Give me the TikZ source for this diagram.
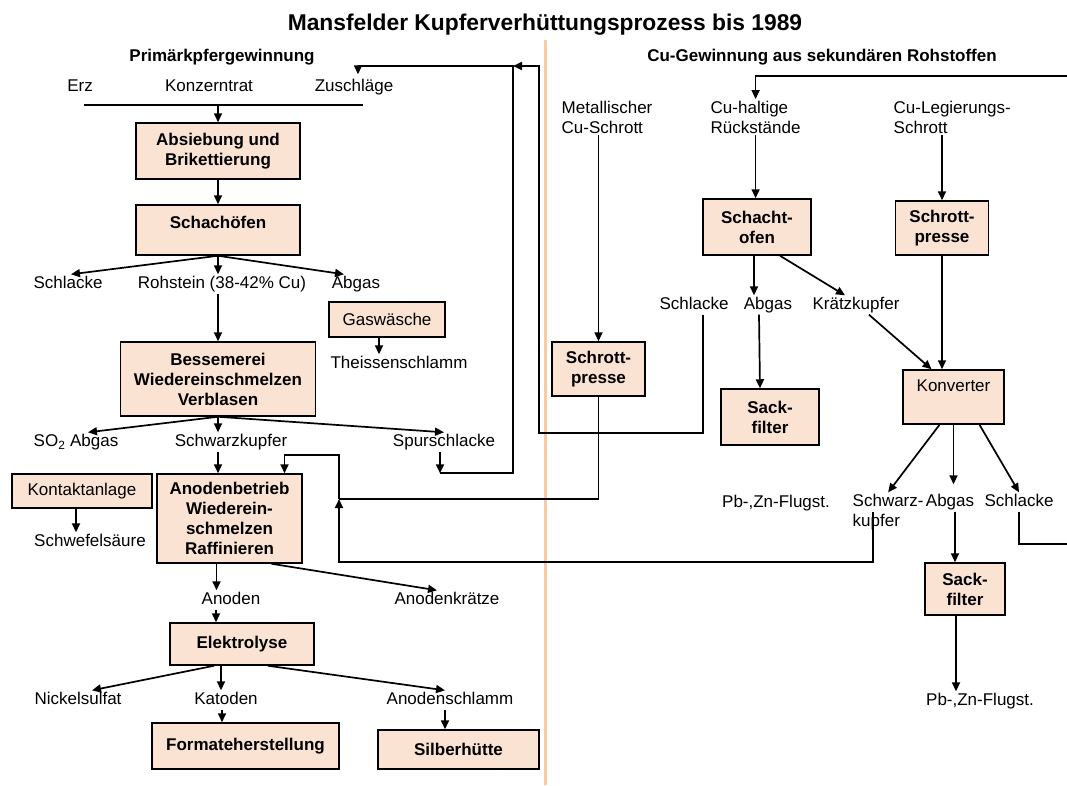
\documentclass[tikz,border=0pt]{standalone}
\usepackage{fontspec}
\setmainfont{Liberation Sans}
\usetikzlibrary{arrows.meta}
\definecolor{boxfill}{RGB}{250,227,210}
\definecolor{sepline}{RGB}{247,203,163}
\newcommand{\lblsize}{\fontsize{17}{20}\selectfont}

\begin{document}
\begin{tikzpicture}[x=1pt, y=-1pt, >={Triangle[length=9pt,width=8pt]},
    every node/.style={font=\lblsize},
    lbl/.style={inner sep=1.5pt, text height=12.5pt, text depth=3.5pt},
    lbltwo/.style={inner sep=1.5pt, align=left, anchor=west},
    stage/.style={draw, line width=1.5pt, fill=boxfill, inner sep=2pt, align=center, font=\lblsize\bfseries},
    plainstage/.style={stage, font=\lblsize},
    flow/.style={line width=1.7pt}]
  \useasboundingbox (0,0) rectangle (1067,785);
  % titles and separator
  \node[font=\fontsize{22.8}{26}\selectfont\bfseries] (title) at (545,25) {Mansfelder Kupferverhüttungsprozess bis 1989};
  \node[font=\lblsize\bfseries] (headL) at (222,57) {Primärkpfergewinnung};
  \node[font=\lblsize\bfseries] (headR) at (822,57) {Cu-Gewinnung aus sekundären Rohstoffen};
  \draw[sepline, line width=3pt] (545,40) -- (545,785);

  % primary side
  \node[lbl] (erz) at (80,87) {Erz};
  \node[lbl] (konz) at (209,87) {Konzerntrat};
  \node[lbl] (zusch) at (354,87) {Zuschläge};
  \coordinate (feedL) at (84,105);
  \coordinate (feedR) at (363,105);
  \node[stage, minimum width=164pt, minimum height=56pt] (absieb) at (218,151) {Absiebung und\\Brikettierung};
  \node[stage, minimum width=164pt, minimum height=50pt, text depth=15pt] (schacht) at (218,230) {Schachöfen};
  \node[lbl] (schl1) at (68,284) {Schlacke};
  \node[lbl] (roh) at (222,284) {Rohstein (38-42\% Cu)};
  \node[lbl] (abg1) at (356,284) {Abgas};
  \node[plainstage, minimum width=116pt, minimum height=35pt] (gas) at (387,319.5) {Gaswäsche};
  \node[lbl] (theis) at (399,364) {Theissenschlamm};
  \node[stage, minimum width=195pt, minimum height=74pt] (bess) at (218,379) {Bessemerei\\Wiedereinschmelzen\\Verblasen};
  \node[lbl] (so2) at (76,442) {SO\textsubscript{2} Abgas};
  \node[lbl] (schw) at (231,442) {Schwarzkupfer};
  \node[lbl] (spur) at (444,442) {Spurschlacke};
  \node[plainstage, minimum width=140pt, minimum height=34pt] (kont) at (82,491) {Kontaktanlage};
  \node[lbl] (schwef) at (90,542) {Schwefelsäure};
  \node[stage, minimum width=145pt, minimum height=89pt] (anod) at (229.5,518.5) {Anodenbetrieb\\Wiederein-\\schmelzen\\Raffinieren};
  \node[lbl] (anoden) at (231,600) {Anoden};
  \node[lbl] (anodk) at (447,600) {Anodenkrätze};
  \node[stage, minimum width=144pt, minimum height=42pt] (elek) at (242,644) {Elektrolyse};
  \node[lbl] (nick) at (78,700) {Nickelsulfat};
  \node[lbl] (kat) at (226,700) {Katoden};
  \node[lbl] (anschl) at (450,700) {Anodenschlamm};
  \node[stage, minimum width=187pt, minimum height=46pt] (form) at (245.5,746) {Formateherstellung};
  \node[stage, minimum width=161pt, minimum height=39pt] (silber) at (458.5,749.5) {Silberhütte};

  % secondary side
  \node[lbltwo] (metal) at (560,117) {Metallischer\\Cu-Schrott};
  \node[lbltwo] (cuh) at (709,117) {Cu-haltige\\Rückstände};
  \node[lbltwo] (leg) at (892,117) {Cu-Legierungs-\\Schrott};
  \coordinate (feedTR) at (1067,76);
  \node[stage, minimum width=108pt, minimum height=56pt] (schofen) at (757,227) {Schacht-\\ofen};
  \node[stage, minimum width=93pt, minimum height=54pt] (spresseR) at (942,228) {Schrott-\\presse};
  \node[lbl] (schlR) at (694,305) {Schlacke};
  \node[lbl] (abgR1) at (768,305) {Abgas};
  \node[lbl] (kratz) at (856,305) {Krätzkupfer};
  \node[stage, minimum width=93pt, minimum height=54pt] (spresseL) at (598.5,369) {Schrott-\\presse};
  \node[stage, minimum width=98pt, minimum height=56pt] (sack1) at (770,417) {Sack-\\filter};
  \node[plainstage, minimum width=101pt, minimum height=54pt, text depth=23pt] (konv) at (953.5,397) {Konverter};
  \node[lbl] (pbL) at (776,503) {Pb-,Zn-Flugst.};
  \node[lbltwo] (schwR) at (851,512) {Schwarz-\\kupfer};
  \node[lbl] (abgR2) at (950,502) {Abgas};
  \node[lbl] (schlR2) at (1019,502) {Schlacke};
  \node[stage, minimum width=80pt, minimum height=52pt] (sack2) at (965,589) {Sack-\\filter};
  \node[lbl] (pbR) at (980,701) {Pb-,Zn-Flugst.};

  % primary flow
  \draw[flow] (feedL) -- (feedR);
  \draw[flow,->] (absieb.north |- feedL) -- (absieb.north);
  \draw[flow,->] (absieb.south) -- (schacht.north);
  \draw[flow,->] (schacht.south) -- ([xshift=3pt]schl1.north);
  \draw[flow,->] (schacht.south) -- (schacht.south |- roh.north);
  \draw[flow,->] (schacht.south) -- ([xshift=-12pt]abg1.north);
  \draw[flow,->] (schacht.south |- roh.south) -- (bess.north);
  \draw[flow,->] ([xshift=-8pt]gas.south) -- ([xshift=-8pt]gas.south |- theis.north);
  \draw[flow,->] (bess.south) -- ([xshift=12pt]so2.north);
  \draw[flow,->] (bess.south) -- (bess.south |- schw.north);
  \draw[flow,->] (bess.south) -- (spur.north);
  \draw[flow,->] (schw.south -| bess.south) -- (bess.south |- anod.north);
  \draw[flow,->] ([xshift=-6pt]kont.south) -- ([xshift=-6pt]kont.south |- schwef.north);
  \draw[flow,->] ([xshift=-13pt]anod.south) -- ([xshift=-13pt]anod.south |- anoden.north);
  \draw[flow,->] ([xshift=42pt]anod.south) -- ([xshift=-10pt]anodk.north);
  \draw[flow,->] ([xshift=-26pt]elek.north |- anoden.south) -- ([xshift=-26pt]elek.north);
  \draw[flow,->] ([xshift=-28pt]elek.south) -- ([xshift=14pt]nick.north);
  \draw[flow,->] ([xshift=-21pt]elek.south) -- ([xshift=-21pt]elek.south |- kat.north);
  \draw[flow,->] ([xshift=26pt]elek.south) -- ([xshift=-5pt]anschl.north);
  \draw[flow,->] ([xshift=-4pt]kat.south) -- ([xshift=-4pt]kat.south |- form.north);
  \draw[flow,->] ([xshift=-5pt]anschl.south) -- ([xshift=-5pt]anschl.south |- silber.north);

  % Schlacke returns to Zuschlaege
  \coordinate (upL) at (513,66);
  \coordinate (downR) at (539,433);
  \draw[flow,->] ([xshift=-4pt]spur.south) -- ([xshift=-4pt]spur.south |- anod.north);
  \draw[flow,->] ([xshift=-4pt]spur.south |- anod.north) -| (upL) -| ([xshift=4pt,yshift=3pt]zusch.north);
  \draw[flow,->] ([xshift=9pt]schlR.south) |- (downR) |- (upL);

  % secondary flow
  \draw[flow,->] (feedTR) -| (cuh.north);
  \draw[flow,->] (metal.south -| spresseL.north) -- (spresseL.north);
  \draw[flow,->] (cuh.south) -- (cuh.south |- schofen.north);
  \draw[flow,->] (leg.south -| spresseR.north) -- (spresseR.north);
  \draw[flow,->] ([xshift=-3pt]schofen.south) -- ([xshift=-3pt]schofen.south |- abgR1.north);
  \draw[flow,->] ([xshift=23pt]schofen.south) -- ([xshift=-11pt]kratz.north);
  \draw[flow,->] ([xshift=-9pt]abgR1.south) -- ([xshift=-10pt]sack1.north);
  \draw[flow,->] ([xshift=13pt]kratz.south) -- ([xshift=-22pt]konv.north);
  \draw[flow,->] (spresseR.south) -- (spresseR.south |- konv.north);
  \draw[flow,->] ([xshift=-14pt]konv.south) -- (schwR.north);
  \draw[flow,->] (konv.south) -- ([yshift=8pt]konv.south |- abgR2.north);
  \draw[flow,->] ([xshift=26pt]konv.south) -- (schlR2.north);
  \draw[flow,->] ([xshift=5pt]abgR2.south) -- ([xshift=5pt]abgR2.south |- sack2.north);
  \draw[flow,->] ([xshift=-9pt]sack2.south) -- ([xshift=-9pt]sack2.south |- pbR.north);
  \coordinate (exitR) at (1067,544);
  \draw[flow] (schlR2.south) |- (exitR);

  % Schwarzkupfer and Schrott back to Anodenbetrieb
  \coordinate (riseB) at (339,562);
  \coordinate (riseM) at (339,499);
  \coordinate (riseT) at (339,455);
  \draw[flow,->] ([xshift=-15pt]schwR.center) |- (riseB) -- (riseM);
  \draw[flow] (spresseL.south) |- (riseM);
  \draw[flow,->] (riseM) -- (riseT) -| ([xshift=55pt]anod.north);
\end{tikzpicture}
\end{document}
